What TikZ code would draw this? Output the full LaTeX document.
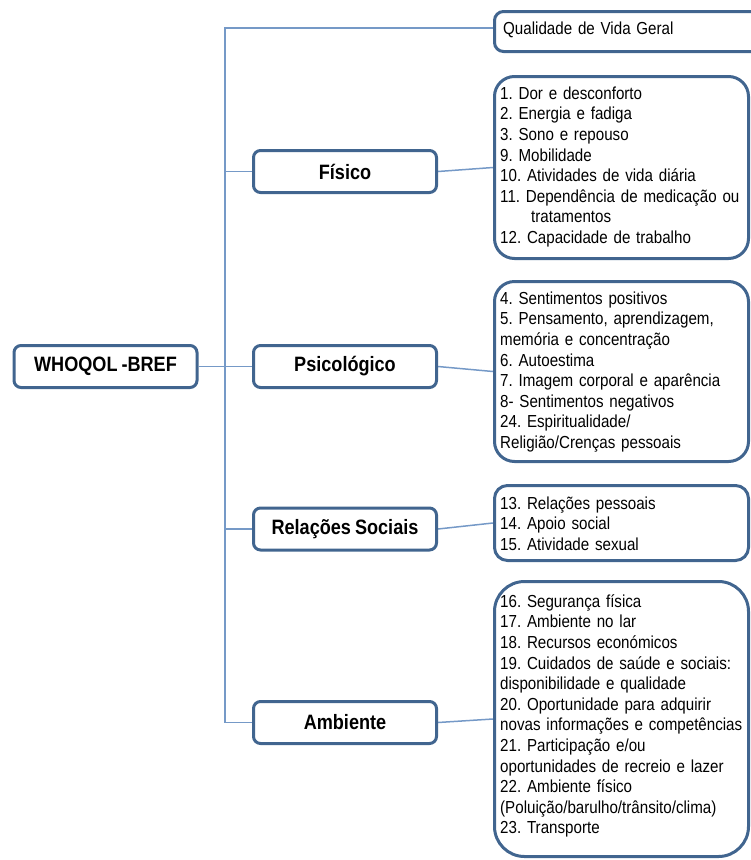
\documentclass[tikz,border=0pt]{standalone}
\usepackage{fontspec}
\setmainfont{Liberation Sans}[FakeStretch=0.87, WordSpace=0.8]
\frenchspacing
\usetikzlibrary{backgrounds}
\definecolor{boxline}{RGB}{65,101,143}
\definecolor{conline}{RGB}{117,153,199}
\tikzset{
  catbox/.style={draw=boxline, line width=3pt, fill=white, rounded corners=7pt,
    minimum width=183pt, minimum height=42pt, inner sep=0pt,
    font=\fontsize{20.8}{24}\selectfont\bfseries},
  itembox/.style={draw=boxline, line width=3pt, fill=white, anchor=west,
    minimum width=254pt, inner sep=0pt},
  itemtext/.style={anchor=north west, inner sep=0pt, align=left, text width=262pt,
    font=\fontsize{17.4}{20.6}\selectfont},
  conn/.style={draw=conline, line width=1.5pt}
}
\begin{document}
\begin{tikzpicture}[x=1pt,y=-1pt]
\useasboundingbox (0,0) rectangle (751,860);
\clip (0,0) rectangle (751,860);
% category nodes
\node[catbox] (who) at (105.5,366.5) {WHOQOL -BREF};
\node[catbox] (fis) at (345,171.5) {Físico};
\node[catbox] (psi) at (345,366.5) {Psicológico};
\node[catbox] (rel) at (345,529) {Relações Sociais};
\node[catbox] (amb) at (345,722.5) {Ambiente};
% item boxes
\node[itembox, rounded corners=9pt, minimum width=320pt, minimum height=40pt] (qual) at (493,31.5) {};
\node[itembox, rounded corners=20pt, minimum height=182pt] (fisI) at (493,167.5) {};
\node[itembox, rounded corners=20pt, minimum height=180pt] (psiI) at (493,371.5) {};
\node[itembox, rounded corners=13pt, minimum height=75pt] (relI) at (493,523) {};
\node[itembox, rounded corners=30pt, minimum height=275pt] (ambI) at (493,719) {};
% trunk
\coordinate (tt) at (225,28);
\coordinate (tb) at (225,722.5);
\begin{scope}[on background layer]
\draw[conn] (qual.west |- tt) -- (tt) -- (tb) -- (amb.west);
\draw[conn] (who.east) -- (who.east -| tt);
\draw[conn] (fis.west) -- (fis.west -| tt);
\draw[conn] (psi.west) -- (psi.west -| tt);
\draw[conn] (rel.west) -- (rel.west -| tt);
\draw[conn] (fis.east) -- (fisI.west);
\draw[conn] (psi.east) -- (psiI.west);
\draw[conn] (rel.east) -- (relI.west);
\draw[conn] (amb.east) -- (ambI.west);
\end{scope}
% texts
\node[itemtext] (qualT) at (503,19.6) {\strut Qualidade de Vida Geral};
\node[itemtext] (fisT) at (500,84.6) {\strut 1. Dor e desconforto\\
2. Energia e fadiga\\
3. Sono e repouso\\
9. Mobilidade\\
10. Atividades de vida diária\\
11. Dependência de medicação ou\\
\hspace*{31pt}tratamentos\\
12. Capacidade de trabalho};
\node[itemtext] (psiT) at (500,289.6) {\strut 4. Sentimentos positivos\\
5. Pensamento, aprendizagem,\\
memória e concentração\\
6. Autoestima\\
7. Imagem corporal e aparência\\
8- Sentimentos negativos\\
24. Espiritualidade/\\
Religião/Crenças pessoais};
\node[itemtext] (relT) at (500,494.6) {\strut 13. Relações pessoais\\
14. Apoio social\\
15. Atividade sexual};
\node[itemtext] (ambT) at (500,592.6) {\strut 16. Segurança física\\
17. Ambiente no lar\\
18. Recursos económicos\\
19. Cuidados de saúde e sociais:\\
disponibilidade e qualidade\\
20. Oportunidade para adquirir\\
novas informações e competências\\
21. Participação e/ou\\
oportunidades de recreio e lazer\\
22. Ambiente físico\\
(Poluição/barulho/trânsito/clima)\\
23. Transporte};
\end{tikzpicture}
\end{document}
